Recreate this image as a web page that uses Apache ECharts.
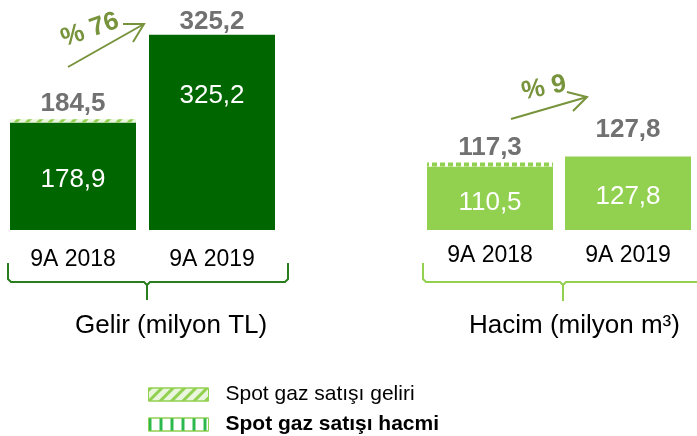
<!DOCTYPE html>
<html>
<head>
<meta charset="utf-8">
<script src="https://cdn.jsdelivr.net/npm/echarts@6/dist/echarts.min.js"></script>
<style>
  html, body { margin: 0; padding: 0; background: #fff; }
  #main { width: 697px; height: 436px; }
</style>
</head>
<body>
<div id="main"></div>
<script>
// veriler
var categories = ['9A 2018', '9A 2019'];
var gelirBase = [178.9, 325.2];
var gelirSpot = [5.6, 0];
var gelirTotal = [184.5, 325.2];
var hacimBase = [110.5, 127.8];
var hacimSpot = [6.8, 0];
var hacimTotal = [117.3, 127.8];

var FONT = '"Liberation Sans", Arial, sans-serif';
var DARK = '#006600';
var LIGHT = '#92D050';
var GREY = '#4D4D4D';
var OLIVE = '#77933C';

function fmt(v) {
  return v.toFixed(1).replace('.', ',');
}

// toplam etiketleri: üstten mesafe (piksel)
var gelirDist = [2, 0];
var hacimDist = [2, 14];
// iç etiketlerin kayması
var gelirInner = [4, -37];
var hacimInner = [5, 4];

var chart = echarts.init(document.getElementById('main'), null, { renderer: 'canvas' });

function legendBox(item, top, weight) {
  return {
    orient: 'vertical',
    left: 143,
    top: top,
    itemWidth: 60,
    itemHeight: 13,
    icon: 'rect',
    data: [item],
    textStyle: { fontFamily: FONT, fontSize: 21, color: '#000', fontWeight: weight, padding: [0, 0, 0, 12] },
    itemStyle: { borderColor: LIGHT, borderWidth: 1 }
  };
}

var option = {
  backgroundColor: '#fff',
  animation: false,
  textStyle: { fontFamily: FONT },
  grid: [
    { left: 3.5, width: 278, top: 30, height: 200 },
    { left: 421, width: 279, top: 30, height: 200 }
  ],
  xAxis: [
    {
      type: 'category', gridIndex: 0, data: categories,
      axisLine: { show: false }, axisTick: { show: false },
      axisLabel: { color: '#000', fontSize: 23, fontFamily: FONT, margin: 18 }
    },
    {
      type: 'category', gridIndex: 1, data: categories,
      axisLine: { show: false }, axisTick: { show: false },
      axisLabel: { color: '#000', fontSize: 23, fontFamily: FONT, margin: 14 }
    }
  ],
  yAxis: [
    { type: 'value', gridIndex: 0, min: 0, max: 333, show: false, splitLine: { show: false } },
    { type: 'value', gridIndex: 1, min: 0, max: 348, show: false, splitLine: { show: false } }
  ],
  legend: [
    legendBox('Spot gaz satışı geliri', 379, 'normal'),
    legendBox({
      name: 'Spot gaz satışı hacmi',
      itemStyle: {
        color: '#fff', borderColor: LIGHT, borderWidth: 1,
        decal: { symbol: 'rect', symbolSize: 1, dashArrayX: [[3, 8]], dashArrayY: [1, 0], color: '#2DB84D' }
      }
    }, 409, 'bold')
  ],
  series: [
    {
      name: 'Gelir', type: 'bar', xAxisIndex: 0, yAxisIndex: 0, stack: 'g',
      barWidth: 126,
      itemStyle: { color: DARK },
      label: {
        show: true, position: 'inside', color: '#fff', fontSize: 26, fontFamily: FONT,
        formatter: function (p) { return fmt(p.value); }
      },
      data: gelirBase.map(function (v, i) {
        return { value: v, label: { offset: [0, gelirInner[i]] } };
      })
    },
    {
      name: 'Spot gaz satışı geliri', type: 'bar', xAxisIndex: 0, yAxisIndex: 0, stack: 'g',
      barWidth: 126,
      itemStyle: {
        color: '#EAF5DD',
        decal: {
          symbol: 'rect', symbolSize: 1,
          dashArrayX: [1, 0], dashArrayY: [3, 5],
          rotation: -Math.PI / 4, color: LIGHT
        }
      },
      data: gelirSpot
    },
    {
      name: 'GelirToplam', type: 'scatter', xAxisIndex: 0, yAxisIndex: 0,
      symbolSize: 0, silent: true,
      label: {
        show: true, position: 'top', color: GREY, fontSize: 26, fontWeight: 'bold', fontFamily: FONT,
        formatter: function (p) { return fmt(p.value); }
      },
      data: gelirTotal.map(function (v, i) {
        return { value: v, label: { distance: gelirDist[i] } };
      })
    },
    {
      name: 'Hacim', type: 'bar', xAxisIndex: 1, yAxisIndex: 1, stack: 'h',
      barWidth: 126,
      itemStyle: { color: LIGHT },
      label: {
        show: true, position: 'inside', color: '#fff', fontSize: 26, fontFamily: FONT,
        formatter: function (p) { return fmt(p.value); }
      },
      data: hacimBase.map(function (v, i) {
        return { value: v, label: { offset: [0, hacimInner[i]] } };
      })
    },
    {
      name: 'Spot gaz satışı hacmi', type: 'bar', xAxisIndex: 1, yAxisIndex: 1, stack: 'h',
      barWidth: 126,
      itemStyle: {
        color: '#fff',
        decal: {
          symbol: 'rect', symbolSize: 1,
          dashArrayX: [[5, 3]], dashArrayY: [1, 0],
          rotation: 0, color: LIGHT
        }
      },
      data: hacimSpot
    },
    {
      name: 'HacimToplam', type: 'scatter', xAxisIndex: 1, yAxisIndex: 1,
      symbolSize: 0, silent: true,
      label: {
        show: true, position: 'top', color: GREY, fontSize: 26, fontWeight: 'bold', fontFamily: FONT,
        formatter: function (p) { return fmt(p.value); }
      },
      data: hacimTotal.map(function (v, i) {
        return { value: v, label: { distance: hacimDist[i] } };
      })
    }
  ],
  graphic: [
    // süslü parantezler
    {
      type: 'polyline', silent: true,
      shape: { points: [[8, 263], [8, 279], [11, 282], [144, 282], [147, 285], [147, 300]] },
      style: { fill: null, stroke: '#2A7D1F', lineWidth: 2 }
    },
    {
      type: 'polyline', silent: true,
      shape: { points: [[147, 285], [150, 282], [285, 282], [288, 279], [288, 263]] },
      style: { fill: null, stroke: '#2A7D1F', lineWidth: 2 }
    },
    {
      type: 'polyline', silent: true,
      shape: { points: [[423, 263], [423, 279], [426, 282], [560, 282], [563, 285], [563, 301]] },
      style: { fill: null, stroke: LIGHT, lineWidth: 2 }
    },
    {
      type: 'polyline', silent: true,
      shape: { points: [[563, 285], [566, 282], [700, 282]] },
      style: { fill: null, stroke: LIGHT, lineWidth: 2 }
    },
    // eksen başlıkları
    {
      type: 'text', left: 75, top: 313,
      style: { text: 'Gelir (milyon TL)', fontSize: 26, fontFamily: FONT, fill: '#000' }
    },
    {
      type: 'text', left: 469, top: 313,
      style: { text: 'Hacim (milyon m³)', fontSize: 26, fontFamily: FONT, fill: '#000' }
    },
    // artış okları
    {
      type: 'polyline', silent: true,
      shape: { points: [[68, 67], [144, 24]] },
      style: { stroke: OLIVE, lineWidth: 2 }
    },
    {
      type: 'polyline', silent: true,
      shape: { points: [[123, 24], [144, 24], [133, 42]] },
      style: { stroke: OLIVE, lineWidth: 2, fill: null }
    },
    {
      type: 'text', x: 90, y: 30, rotation: 0.33,
      style: { text: '% 76', fontSize: 26, fontWeight: 'bold', fontFamily: FONT, fill: OLIVE, align: 'center', verticalAlign: 'middle' }
    },
    {
      type: 'polyline', silent: true,
      shape: { points: [[511, 119], [587, 97]] },
      style: { stroke: OLIVE, lineWidth: 2 }
    },
    {
      type: 'polyline', silent: true,
      shape: { points: [[567, 92], [587, 97], [573, 111]] },
      style: { stroke: OLIVE, lineWidth: 2, fill: null }
    },
    {
      type: 'text', x: 544, y: 88, rotation: 0.2,
      style: { text: '% 9', fontSize: 26, fontWeight: 'bold', fontFamily: FONT, fill: OLIVE, align: 'center', verticalAlign: 'middle' }
    }
  ]
};

chart.setOption(option);
</script>
</body>
</html>
